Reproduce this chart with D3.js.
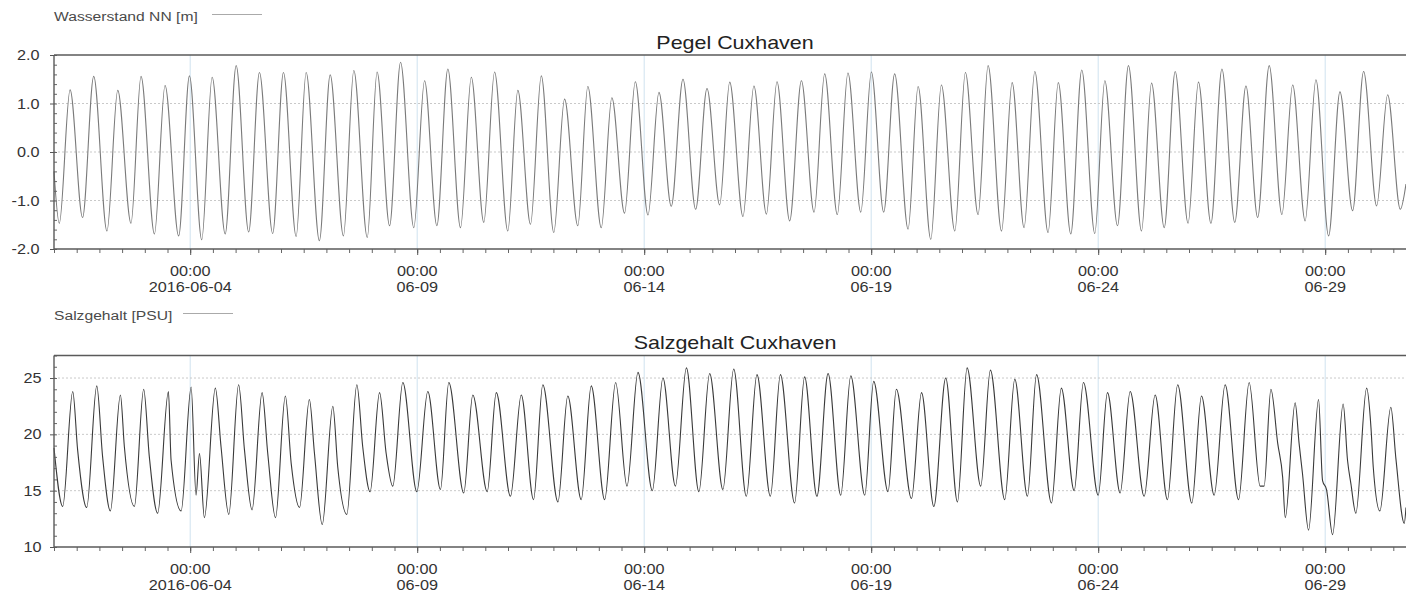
<!DOCTYPE html>
<html>
<head>
<meta charset="utf-8">
<script src="https://cdn.jsdelivr.net/npm/d3@7"></script>
<style>
  html, body { margin: 0; padding: 0; background: #fff; }
  svg { display: block; font-family: "Liberation Sans", Arial, sans-serif; }
</style>
</head>
<body>
<div id="chart"></div>
<script>
// Time axis
const rangeStart = '2016-06-01';
const rangeEnd = '2016-07-01';
const majorTickDays = ['2016-06-04', '2016-06-09', '2016-06-14', '2016-06-19', '2016-06-24', '2016-06-29'];
const majorTickLabels = ['2016-06-04', '06-09', '06-14', '06-19', '06-24', '06-29'];

// Pegel Cuxhaven: tide turning points, hours after 2016-06-01 00:00 / water level in m
const levelHours = [
  0, 2.8, 8.5, 15.1, 21.0, 28.0, 33.7, 40.7, 46.0, 53.1, 58.7, 65.9, 71.6, 78.1, 83.6, 90.5,
  96.3, 102.9, 108.6, 115.6, 121.3, 128.0, 133.3, 140.3, 146.0, 153.0, 158.5, 165.6, 170.8, 177.4,
  183.2, 190.2, 195.9, 202.4, 208.2, 214.9, 220.6, 227.2, 232.9, 239.9, 245.2, 251.9, 257.6, 264.2,
  269.9, 276.9, 282.2, 289.3, 294.9, 301.6, 307.3, 314.0, 319.8, 326.3, 332.5, 339.2, 345.2, 351.9,
  357.2, 364.2, 370.0, 376.6, 382.2, 388.9, 395.1, 401.8, 407.4, 414.1, 419.7, 426.5, 432.1, 438.6,
  444.4, 451.5, 456.8, 463.5, 469.1, 476.2, 481.8, 488.5, 493.8, 500.9, 506.5, 512.8, 518.5, 525.5,
  530.9, 537.5, 543.3, 550.2, 555.5, 562.2, 568.0, 574.9, 580.2, 586.9, 592.7, 599.5, 605.0, 611.6,
  617.4, 624.2, 630.1, 636.3, 642.4, 649.1, 654.8, 661.4, 667.1, 673.8, 679.8, 686.5, 692.3, 699.2,
  705.0, 711.7, 714.7
];
const levelValues = [
  -0.4, -1.47, 1.28, -1.35, 1.56, -1.63, 1.27, -1.47, 1.56, -1.69, 1.37, -1.73, 1.57, -1.81, 1.54, -1.69,
  1.78, -1.65, 1.64, -1.68, 1.64, -1.74, 1.64, -1.83, 1.59, -1.73, 1.68, -1.76, 1.65, -1.52,
  1.85, -1.56, 1.47, -1.52, 1.71, -1.56, 1.54, -1.45, 1.65, -1.63, 1.27, -1.49, 1.57, -1.66,
  1.09, -1.52, 1.35, -1.56, 1.12, -1.26, 1.45, -1.30, 1.23, -1.12, 1.50, -1.18, 1.31, -1.09,
  1.44, -1.33, 1.36, -1.28, 1.45, -1.42, 1.47, -1.24, 1.61, -1.29, 1.63, -1.24, 1.65, -1.24,
  1.61, -1.59, 1.35, -1.80, 1.38, -1.63, 1.64, -1.29, 1.78, -1.63, 1.43, -1.56, 1.66, -1.66,
  1.43, -1.69, 1.69, -1.68, 1.47, -1.52, 1.78, -1.63, 1.42, -1.56, 1.66, -1.47, 1.44, -1.47,
  1.71, -1.45, 1.36, -1.35, 1.78, -1.29, 1.38, -1.42, 1.49, -1.73, 1.24, -1.21, 1.66, -1.11,
  1.18, -1.18, -0.66
];

// Salzgehalt Cuxhaven: peaks, shoulders and troughs, hours after 2016-06-01 00:00 / PSU
const salinityHours = [
  0, 4.6, 9.9, 12.5, 17.3, 22.6, 25.7, 29.8, 35.1, 37.2, 42.5, 47.4, 50.4, 54.8, 60.5, 61.9, 67.2,
  72.5, 75.1, 76.9, 79.5, 85.3, 88.3, 92.4, 97.6, 100.7, 104.7, 110.0, 113.0, 117.1, 122.3, 125.4,
  129.8, 135.0, 137.7, 141.8, 147.4, 150.0, 154.8, 160.1, 163.2, 167.1, 172.1, 175.6, 179.1, 184.4,
  191.8, 197.6, 204.3, 208.7, 216.6, 221.4, 229.0, 233.8, 241.3, 247.0, 253.5, 258.4, 266.4, 271.6,
  278.7, 284.0, 291.1, 296.9, 302.9, 308.7, 316.3, 321.9, 328.5, 334.3, 340.9, 346.6, 353.6, 359.3,
  366.0, 371.6, 378.7, 384.0, 391.5, 396.8, 403.3, 409.2, 415.9, 421.2, 428.6, 433.3, 440.9, 445.3,
  453.3, 458.6, 465.1, 471.4, 477.6, 482.7, 489.9, 495.0, 502.6, 507.9, 514.6, 519.4, 527.3, 532.5,
  539.3, 544.2, 552.0, 556.9, 563.6, 568.9, 576.3, 582.1, 588.6, 594.0, 601.5, 606.6, 613.3, 619.1,
  626.2, 631.8, 637.6, 639.7, 643.3, 646.9, 649.5, 650.9, 656.1, 658.2, 660.0, 663.2, 668.5, 670.6,
  672.7, 675.9, 681.5, 683.8, 685.6, 688.2, 693.9, 696.2, 697.4, 700.9, 706.7, 709.4, 713.8, 714.7
];
const salinityValues = [
  18.8, 13.6, 23.8, 18.6, 13.5, 24.3, 18.0, 13.2, 23.5, 18.9, 13.6, 24.0, 18.0, 13.0, 23.8, 17.7, 13.2,
  24.2, 14.6, 18.3, 12.6, 24.1, 18.9, 12.9, 24.4, 18.6, 13.3, 23.7, 18.3, 12.6, 23.4, 17.4,
  13.5, 23.1, 18.3, 12.0, 22.5, 17.1, 12.9, 24.4, 18.9, 14.9, 23.7, 18.3, 15.4, 24.6,
  14.9, 23.8, 15.1, 24.6, 14.8, 23.5, 14.9, 23.7, 14.5, 23.5, 14.2, 24.4, 14.0, 23.4,
  14.2, 24.3, 14.2, 24.6, 15.4, 25.5, 15.0, 25.0, 15.4, 25.9, 14.9, 25.4, 15.1, 25.8,
  14.5, 25.3, 14.5, 25.3, 13.9, 25.1, 14.5, 25.4, 14.6, 25.2, 14.6, 24.7, 14.9, 24.0,
  14.3, 23.7, 13.6, 25.0, 14.0, 25.9, 15.4, 25.7, 14.2, 24.9, 14.5, 25.3, 13.9, 24.1,
  15.0, 24.6, 14.6, 23.7, 14.8, 23.8, 14.5, 23.5, 14.2, 24.4, 13.9, 23.4, 14.6, 24.4,
  14.2, 24.6, 15.4, 15.4, 24.0, 19.2, 16.2, 12.6, 22.8, 19.2, 16.5, 11.5, 23.1, 15.9,
  15.1, 11.1, 22.7, 17.7, 15.6, 13.0, 24.1, 20.6, 17.1, 13.2, 22.4, 17.8, 12.1, 13.5
];

// Value axes
const levelTicks = [-2, -1, 0, 1, 2];
const salinityTicks = [10, 15, 20, 25];

// The reference picture is stretched sideways, so text is widened by the same factor
const SX = 1.16;
const width = 1406;
const height = 593;

const parseDay = d3.timeParse('%Y-%m-%d');
const start = parseDay(rangeStart);
const end = parseDay(rangeEnd);
const majorDates = majorTickDays.map(parseDay);
const hourToDate = h => d3.timeMinute.offset(start, Math.round(h * 60));

const svg = d3.select('#chart')
  .append('svg')
  .attr('width', width)
  .attr('height', height);

// shared time scale (plot runs past the right edge of the window)
const x = d3.scaleTime().domain([start, end]).range([54, 1416]);

function wideText(parent, tx, ty, str, size, anchor, fill) {
  return parent.append('text')
    .attr('transform', `translate(${tx},${ty}) scale(${SX},1)`)
    .attr('text-anchor', anchor)
    .attr('font-size', size)
    .attr('fill', fill)
    .text(str);
}

function drawPanel(cfg) {
  const { top, bottom, yDomain, yTicks, yMinorStep, yFormat, yLabelX, hours, values,
          lineColor, title, legend, legendY, legendLine } = cfg;
  const [x0, x1] = x.range();
  const y = d3.scaleLinear().domain(yDomain).range([bottom, top]);
  const g = svg.append('g');

  // vertical grid at the labelled days
  g.append('g')
    .selectAll('line')
    .data(majorDates)
    .join('line')
    .attr('x1', d => x(d)).attr('x2', d => x(d))
    .attr('y1', top).attr('y2', bottom)
    .attr('stroke', '#cfe2ef')
    .attr('stroke-width', 1);

  // horizontal grid
  g.append('g')
    .selectAll('line')
    .data(yTicks.filter(v => v > yDomain[0] && v < yDomain[1]))
    .join('line')
    .attr('x1', x0).attr('x2', x1)
    .attr('y1', d => y(d)).attr('y2', d => y(d))
    .attr('stroke', '#c9c9c9')
    .attr('stroke-dasharray', '2,2');

  // data line
  const points = hours.map((h, i) => ({ date: hourToDate(h), value: values[i] }));
  const line = d3.line()
    .x(d => x(d.date))
    .y(d => y(d.value))
    .curve(d3.curveMonotoneX);
  g.append('path')
    .datum(points)
    .attr('d', line)
    .attr('fill', 'none')
    .attr('stroke', lineColor)
    .attr('stroke-width', 1.1);

  // x axis: minor ticks every 12 h, longer ticks at the labelled days
  const minorDates = d3.timeHour.every(12).range(start, end);
  g.append('g')
    .attr('transform', `translate(0,${bottom})`)
    .call(d3.axisBottom(x).tickValues(minorDates).tickSize(4).tickFormat(''))
    .call(a => a.select('.domain').remove())
    .call(a => a.selectAll('line').attr('stroke', '#666'));
  g.append('g')
    .attr('transform', `translate(0,${bottom})`)
    .call(d3.axisBottom(x).tickValues(majorDates).tickSize(6).tickFormat(''))
    .call(a => a.select('.domain').remove())
    .call(a => a.selectAll('line').attr('stroke', '#555'));

  // y axis: labelled ticks outside, minor ticks inside
  const yMinor = d3.range(yDomain[0], yDomain[1] + 1e-9, yMinorStep);
  g.append('g')
    .attr('transform', `translate(${x0},0)`)
    .call(d3.axisRight(y).tickValues(yMinor).tickSize(3).tickFormat(''))
    .call(a => a.select('.domain').remove())
    .call(a => a.selectAll('line').attr('stroke', '#666'));
  g.append('g')
    .attr('transform', `translate(${x0},0)`)
    .call(d3.axisLeft(y).tickValues(yTicks).tickSize(4).tickFormat(''))
    .call(a => a.select('.domain').remove())
    .call(a => a.selectAll('line').attr('stroke', '#555'));

  // frame: top, left, bottom
  const frame = g.append('g').attr('stroke', '#5a5a5a').attr('stroke-width', 1.4).attr('fill', 'none');
  frame.append('line').attr('x1', x0).attr('x2', x1).attr('y1', top).attr('y2', top);
  frame.append('line').attr('x1', x0).attr('x2', x1).attr('y1', bottom).attr('y2', bottom);
  frame.append('line').attr('x1', x0).attr('x2', x0).attr('y1', top).attr('y2', bottom);

  // y labels (plain hyphen as minus sign, like the reference)
  yTicks.forEach(v => {
    wideText(g, yLabelX, y(v) + 5, yFormat(v).replace('\u2212', '-'), 14, 'end', '#333');
  });

  // x labels, two lines
  majorDates.forEach((d, i) => {
    wideText(g, x(d), bottom + 27, '00:00', 14, 'middle', '#333');
    wideText(g, x(d), bottom + 43, majorTickLabels[i], 14, 'middle', '#333');
  });

  // title
  wideText(g, (x0 + x1) / 2, top - 6.5, title, 18.5, 'middle', '#222');

  // legend
  wideText(g, 54, legendY, legend, 13.5, 'start', '#4a4a4a');
  g.append('line')
    .attr('x1', legendLine[0]).attr('x2', legendLine[1])
    .attr('y1', legendY - 6).attr('y2', legendY - 6)
    .attr('stroke', '#aaa')
    .attr('stroke-width', 1);
}

drawPanel({
  top: 55, bottom: 249,
  yDomain: [-2, 2], yTicks: levelTicks, yMinorStep: 0.2,
  yFormat: d3.format('.1f'), yLabelX: 39.5,
  hours: levelHours, values: levelValues,
  lineColor: '#7a7a7a',
  title: 'Pegel Cuxhaven',
  legend: 'Wasserstand NN [m]', legendY: 20.5, legendLine: [212, 262]
});

drawPanel({
  top: 355.5, bottom: 547,
  yDomain: [10, 27], yTicks: salinityTicks, yMinorStep: 1,
  yFormat: d3.format('d'), yLabelX: 41.5,
  hours: salinityHours, values: salinityValues,
  lineColor: '#3a3a3a',
  title: 'Salzgehalt Cuxhaven',
  legend: 'Salzgehalt [PSU]', legendY: 319.5, legendLine: [183, 233]
});
</script>
</body>
</html>
